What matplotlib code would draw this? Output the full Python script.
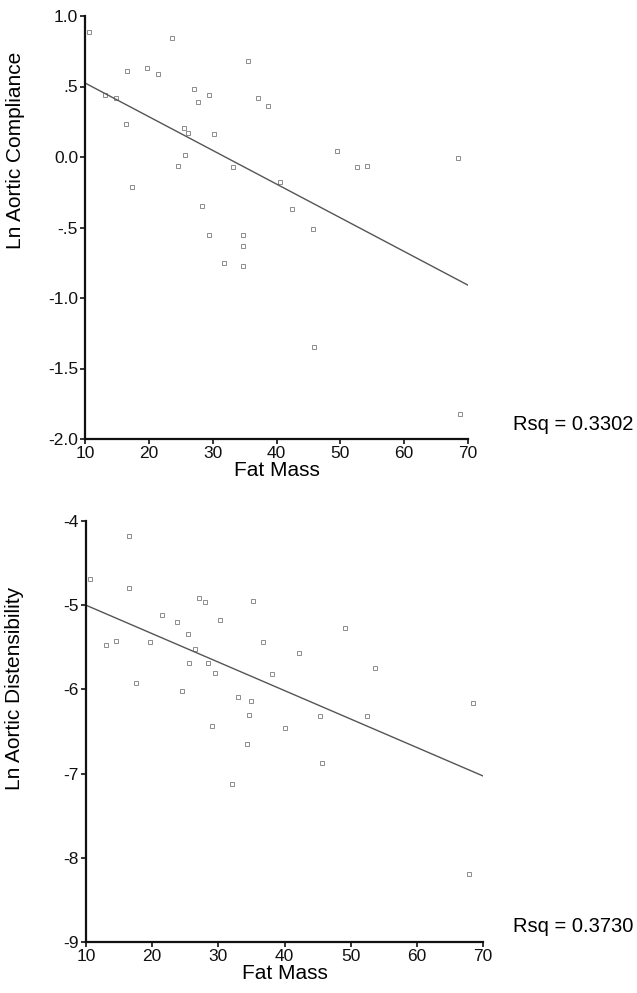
import numpy as np
import matplotlib
matplotlib.use("Agg")
import matplotlib.pyplot as plt

plt.rcParams['font.family'] = ['Liberation Sans', 'DejaVu Sans']

###############################################################################
# Data

fat_mass_top = [10.6, 23.7, 16.6, 19.7, 21.5, 35.5, 13.2, 14.8, 27.0, 29.5,
                 27.7, 37.1, 38.6, 16.4, 25.5, 26.2, 30.2, 49.5, 25.7, 24.5,
                 33.2, 52.6, 54.2, 17.4, 40.5, 28.3, 42.4, 45.7, 29.5, 34.8,
                 34.8, 31.7, 34.8, 45.8, 68.7, 68.4]
ln_compliance = [0.885, 0.846, 0.61, 0.633, 0.589, 0.68, 0.44, 0.416, 0.48, 0.44,
                 0.39, 0.416, 0.36, 0.234, 0.208, 0.172, 0.16, 0.045, 0.014, -0.062,
                 -0.069, -0.069, -0.062, -0.21, -0.18, -0.35, -0.37, -0.51, -0.55, -0.55,
                 -0.63, -0.75, -0.77, -1.35, -1.82, -0.005]

fat_mass_bot = [16.55, 10.6, 16.55, 27.1, 28.0, 35.2, 21.5, 23.7, 30.25, 25.4,
                13.0, 14.5, 19.7, 26.4, 36.8, 49.2, 42.2, 25.5, 28.4, 29.5,
                38.1, 53.7, 17.6, 24.5, 33.0, 34.9, 34.6, 45.3, 52.4, 68.5,
                29.0, 40.1, 34.4, 45.6, 32.0, 67.9]
ln_distensibility = [-4.18, -4.69, -4.80, -4.92, -4.96, -4.95, -5.12, -5.20, -5.17, -5.34,
                     -5.47, -5.42, -5.44, -5.52, -5.44, -5.27, -5.57, -5.69, -5.69, -5.80,
                     -5.82, -5.74, -5.92, -6.02, -6.09, -6.14, -6.30, -6.32, -6.32, -6.16,
                     -6.44, -6.46, -6.65, -6.87, -7.12, -8.19]

# fitted lines (intercept, slope) and R squared as printed
fit_top = (0.764, -0.0239)
fit_bot = (-4.662, -0.0338)
rsq_top = "Rsq = 0.3302"
rsq_bot = "Rsq = 0.3730"

x_ticks = [10, 20, 30, 40, 50, 60, 70]
top_yticks = [-2.0, -1.5, -1.0, -0.5, 0.0, 0.5, 1.0]
top_ylabels = ['-2.0', '-1.5', '-1.0', '-.5', '0.0', '.5', '1.0']
bot_yticks = [-9, -8, -7, -6, -5, -4]
bot_ylabels = ['-9', '-8', '-7', '-6', '-5', '-4']

###############################################################################
# Plot

W, H = 637, 993
fig = plt.figure(figsize=(W / 100, H / 100), dpi=100)

ax1 = fig.add_axes([85 / W, (H - 439) / H, (468 - 85) / W, 423 / H])
ax2 = fig.add_axes([86 / W, (H - 942) / H, (483 - 86) / W, 421 / H])


def style_panel(ax, xs, ys, fit, yticks, ylabels, ylim, ylabel, ylab_y):
    ax.plot(xs, ys, linestyle='none', marker='s', ms=3.2, mfc='none',
            mec='#8c8c8c', mew=0.7, clip_on=False)
    xx = np.array([10, 70])
    ax.plot(xx, fit[0] + fit[1] * xx, color='#555555', lw=1.0)
    ax.set_xlim(10, 70)
    ax.set_ylim(*ylim)
    ax.set_xticks(x_ticks)
    ax.set_yticks(yticks)
    ax.set_yticklabels(ylabels)
    for side in ['top', 'right']:
        ax.spines[side].set_visible(False)
    for side in ['left', 'bottom']:
        ax.spines[side].set_linewidth(1.6)
        ax.spines[side].set_color('#111111')
    ax.tick_params(direction='out', length=3.5, width=1.2, labelsize=12.5,
                   pad=1.5, colors='#111111')
    ax.set_xlabel('Fat Mass', fontsize=15, labelpad=0)
    ax.set_ylabel(ylabel, fontsize=15)
    ax.yaxis.set_label_coords(-0.157, ylab_y)


style_panel(ax1, fat_mass_top, ln_compliance, fit_top, top_yticks, top_ylabels,
            (-2.0, 1.0), 'Ln Aortic Compliance', 0.683)
style_panel(ax2, fat_mass_bot, ln_distensibility, fit_bot, bot_yticks, bot_ylabels,
            (-9, -4), 'Ln Aortic Distensibility', 0.603)

fig.text(513 / W, 1 - 425 / H, rsq_top, fontsize=14.5, ha='left', va='center')
fig.text(513 / W, 1 - 927 / H, rsq_bot, fontsize=14.5, ha='left', va='center')

fig.savefig('out.png', dpi=100)
